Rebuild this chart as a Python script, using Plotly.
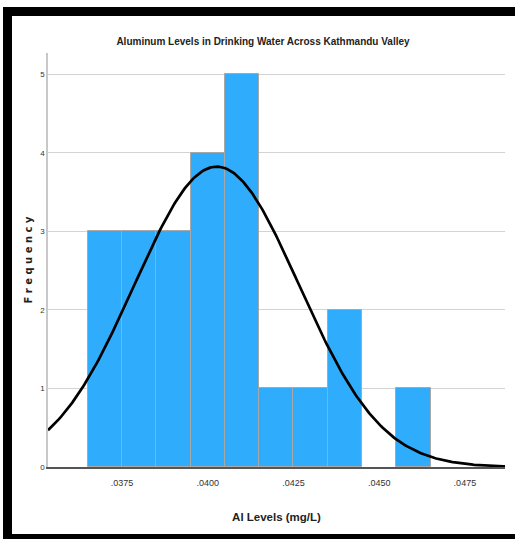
import numpy as np
import plotly.graph_objects as go

# Histogram bins (mg/L) and frequencies
bin_starts = [0.0365, 0.0375, 0.0385, 0.0395, 0.0405, 0.0415, 0.0425, 0.0435, 0.0445, 0.0455]
frequencies = [3, 3, 3, 4, 5, 1, 1, 2, 0, 1]
bin_width = 0.001

# Fitted normal curve parameters
fit_mean = 0.04026
fit_sd = 0.00240
n_total = sum(frequencies)

x_tick_vals = [0.0375, 0.0400, 0.0425, 0.0450, 0.0475]
x_tick_text = [".0375", ".0400", ".0425", ".0450", ".0475"]
y_tick_vals = [0, 1, 2, 3, 4, 5]

x_range = [0.03534, 0.04867]
y_range = [0, 5.27]

W, H = 515, 539
ml, mr, mt, mb = 48, 10, 53, 72
pw = W - ml - mr
ph = H - mt - mb

def px_x(p):
    return (p - ml) / pw

def px_y(p):
    return (H - mb - p) / ph

centers = [s + bin_width / 2 for s in bin_starts]

fig = go.Figure()
fig.add_trace(go.Bar(
    x=centers, y=frequencies, width=[bin_width] * len(centers),
    marker=dict(color="#2fadfc",
                line=dict(color="#a8a8a8", width=[1 if f > 0 else 0 for f in frequencies])),
    hoverinfo="x+y", showlegend=False,
))

xs = np.linspace(x_range[0], x_range[1], 300)
ys = n_total * bin_width / (fit_sd * np.sqrt(2 * np.pi)) * np.exp(-0.5 * ((xs - fit_mean) / fit_sd) ** 2)
fig.add_trace(go.Scatter(x=xs, y=ys, mode="lines", line=dict(color="black", width=2.7),
                         showlegend=False, hoverinfo="skip"))

narrow = "Liberation Sans Narrow, Arial Narrow, Liberation Sans, sans-serif"

def frame_rect(x0, x1, y0, y1):
    return dict(type="rect", xref="paper", yref="paper",
                x0=px_x(x0), x1=px_x(x1), y0=px_y(y0), y1=px_y(y1),
                fillcolor="black", line=dict(width=0), layer="above")

fig.update_layout(
    width=W, height=H,
    margin=dict(l=ml, r=mr, t=mt, b=mb),
    paper_bgcolor="white", plot_bgcolor="white",
    bargap=0,
    title=dict(text="<b>Aluminum Levels in Drinking Water Across Kathmandu Valley</b>",
               x=(263) / W, xanchor="center", y=1 - 41 / H, yanchor="middle",
               font=dict(family=narrow, size=10, color="#222")),
    xaxis=dict(range=x_range, tickvals=x_tick_vals, ticktext=x_tick_text,
               showgrid=False, zeroline=False, showline=True, linecolor="#555", linewidth=1.5,
               ticks="", ticklabelstandoff=6, tickfont=dict(family=narrow, size=9, color="#333"),
               title=dict(text="<b>Al Levels (mg/L)</b>", font=dict(family=narrow, size=11.5, color="#222"),
                          standoff=26)),
    yaxis=dict(range=y_range, tickvals=y_tick_vals, showgrid=True, gridcolor="#d3d3d3", gridwidth=1,
               zeroline=False, showline=True, linecolor="#c8c8c8", linewidth=1.5,
               ticks="", tickfont=dict(family=narrow, size=8, color="#333"),
               title=dict(text="<b>F r e q u e n c y</b>", font=dict(family="DejaVu Sans", size=10, color="#222"),
                          standoff=6)),
    shapes=[
        frame_rect(3, 515, 7, 16),
        frame_rect(3, 12, 7, 539),
        frame_rect(3, 515, 534, 539),
    ],
)

fig.write_html("out.html")
